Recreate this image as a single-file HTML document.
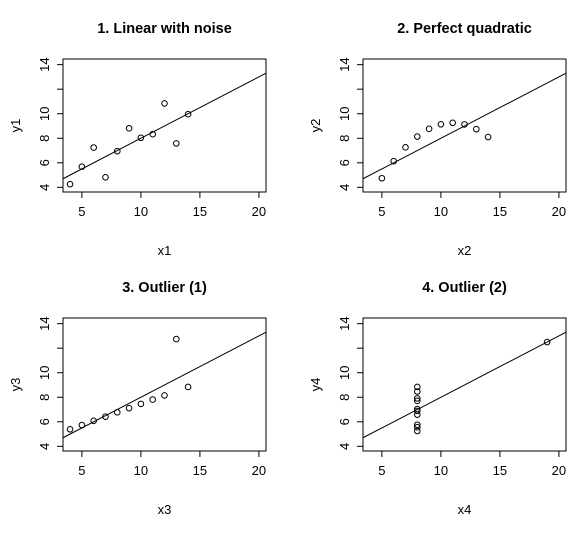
<!DOCTYPE html>
<html><head><meta charset="utf-8"><style>
body{margin:0;background:#fff}
svg text{font-family:"Liberation Sans",Arial,sans-serif;fill:#000}
</style></head><body>
<svg id="c" width="587" height="544"></svg>
<script>
const x1=[10,8,13,9,11,14,6,4,12,7,5];
const y1=[8.04,6.95,7.58,8.81,8.33,9.96,7.24,4.26,10.84,4.82,5.68];
const x2=[10,8,13,9,11,14,6,4,12,7,5];
const y2=[9.14,8.14,8.74,8.77,9.26,8.10,6.13,3.10,9.13,7.26,4.74];
const x3=[10,8,13,9,11,14,6,4,12,7,5];
const y3=[7.46,6.77,12.74,7.11,7.81,8.84,6.08,5.39,8.15,6.42,5.73];
const x4=[8,8,8,8,8,8,8,19,8,8,8];
const y4=[6.58,5.76,7.71,8.84,8.47,7.04,5.25,12.50,5.56,7.91,6.89];
const titles=["1. Linear with noise","2. Perfect quadratic","3. Outlier (1)","4. Outlier (2)"];
const xTicks=[5,10,15,20];
const yTicks=[4,6,8,10,12,14];
const yLabels=["4","6","8","10","","14"];
const fitA=3, fitB=0.5;
const NS="http://www.w3.org/2000/svg";
const svg=document.getElementById('c');
function mk(t,a,p){const e=document.createElementNS(NS,t);for(const k in a)e.setAttribute(k,a[k]);(p||svg).appendChild(e);return e;}
const sets=[[x1,y1],[x2,y2],[x3,y3],[x4,y4]];
const offs=[[0,0],[300,0],[0,259],[300,259]];
sets.forEach((s,i)=>{
 const ox=offs[i][0],oy=offs[i][1];
 const L=63+ox,R=266+ox,T=59+oy,B=192+oy;
 const xmin=3.4,xmax=20.6,ymin=3.62,ymax=14.46;
 const sx=v=>L+(v-xmin)/(xmax-xmin)*(R-L);
 const sy=v=>B-(v-ymin)/(ymax-ymin)*(B-T);
 const g=mk('g',{});
 
 
 const t=mk('text',{x:(L+R)/2,y:33+oy,'text-anchor':'middle','font-size':'14.5','font-weight':'bold'},g);
 t.textContent=titles[i];
 
 
 const box=mk('rect',{x:L,y:T,width:R-L,height:B-T,fill:'none',stroke:'#000','stroke-width':1},g);
 
 
 xTicks.forEach(v=>{
  mk('line',{x1:sx(v),x2:sx(v),y1:B,y2:B+6,stroke:'#000'},g);
  const tt=mk('text',{x:sx(v),y:B+24,'text-anchor':'middle','font-size':'13'},g);
  tt.textContent=v;
  
  
 });
 yTicks.forEach((v,j)=>{
  mk('line',{x1:L-6,x2:L,y1:sy(v),y2:sy(v),stroke:'#000'},g);
  if(yLabels[j]){
   const tt=mk('text',{x:L-14,y:sy(v),'text-anchor':'middle','font-size':'13',transform:`rotate(-90 ${L-14} ${sy(v)})`},g);
   tt.textContent=yLabels[j];
   
   
  }
 });
 const xl=mk('text',{x:(L+R)/2,y:B+63,'text-anchor':'middle','font-size':'13'},g);
 xl.textContent='x'+(i+1);
 
 
 const yx=L-43,yy=(T+B)/2;
 const yl=mk('text',{x:yx,y:yy,'text-anchor':'middle','font-size':'13',transform:`rotate(-90 ${yx} ${yy})`},g);
 yl.textContent='y'+(i+1);
 
 
 const cp=mk('clipPath',{id:'cp'+i},g);mk('rect',{x:L,y:T,width:R-L,height:B-T},cp);
 const fl=mk('line',{x1:sx(xmin),y1:sy(fitA+fitB*xmin),x2:sx(xmax),y2:sy(fitA+fitB*xmax),stroke:'#000','stroke-width':1,'clip-path':`url(#cp${i})`},g);
 
 
 s[0].forEach((xv,k)=>{
  const yv=s[1][k];
  if(yv<ymin||yv>ymax) return;
  const c=mk('circle',{cx:sx(xv),cy:sy(yv),r:2.8,fill:'none',stroke:'#000','stroke-width':1},g);
  
  
 });
});
</script>
</body></html>
